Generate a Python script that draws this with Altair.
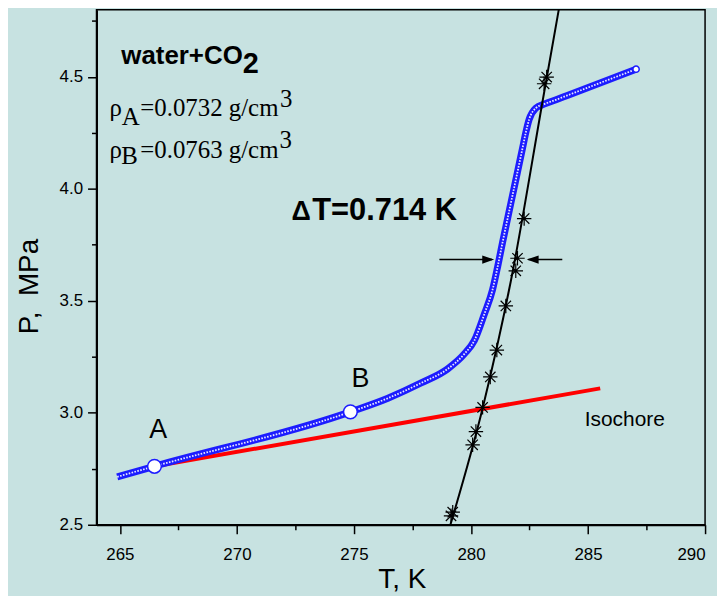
import altair as alt
import pandas as pd

# ---- data ----
# measured P(T) curve (blue open circles)
blue_T = [264.885, 266.477, 274.847, 276.45, 277.87, 279.006, 279.72, 280.14, 280.568,
          280.922, 281.134, 281.347, 281.701, 281.986, 282.199, 282.339, 282.484, 282.765,
          283.123, 283.689, 284.115, 287.052]
blue_P = [2.714, 2.761, 3.004, 3.065, 3.133, 3.196, 3.263, 3.322, 3.44,
          3.55, 3.65, 3.76, 3.935, 4.075, 4.18, 4.25, 4.31, 4.36,
          4.378, 4.40, 4.417, 4.534]
# phase-boundary points (asterisks)
star_T = [279.146, 279.219, 280.07, 280.21, 280.496, 280.824, 281.104, 281.488,
          281.913, 281.986, 282.271, 283.123, 283.233]
star_P = [2.54, 2.556, 2.857, 2.916, 3.024, 3.16, 3.28, 3.477,
          3.634, 3.69, 3.867, 4.469, 4.499]
# line through the asterisks
fit_T = [279.12, 280.496, 281.70, 283.12, 283.75]
fit_P = [2.5, 3.02, 3.587, 4.428, 4.8]
# isochore (red)
iso_T = [266.48, 285.52]
iso_P = [2.761, 3.109]
# marked states A and B
pt_T = [266.477, 274.847]
pt_P = [2.761, 3.004]
pt_name = ["A", "B"]
# axis ticks
x_ticks = [265, 267.5, 270, 272.5, 275, 277.5, 280, 282.5, 285, 287.5, 290]
y_ticks = [2.5, 2.75, 3.0, 3.25, 3.5, 3.75, 4.0, 4.25, 4.5, 4.75]

BG = "#c7e2e1"
BLUE = "#1c1cff"
SANS = "Liberation Sans"
SERIF = "Liberation Serif"
STAR = "M-1,0L1,0M0,-1L0,1M-0.72,-0.72L0.72,0.72M-0.72,0.72L0.72,-0.72"
HEAD_R = "M0,0L-1,-0.34L-1,0.34Z"
HEAD_L = "M0,0L1,-0.34L1,0.34Z"

xs = alt.Scale(domain=[264, 290], nice=False, zero=False)
ys = alt.Scale(domain=[2.5, 4.8], nice=False, zero=False)

xaxis = alt.Axis(
    values=x_ticks, format="d",
    labelExpr="datum.value % 5 === 0 ? datum.label : ''",
    tickSize={"condition": {"test": "datum.value % 5 === 0", "value": 9}, "value": 5},
    labelPadding=13,
    title="T, K", titleX=307, titleY=63, titleBaseline="alphabetic", titleAlign="center",
)
yaxis = alt.Axis(
    values=y_ticks, format=".1f",
    labelExpr="round(datum.value * 100) % 50 === 0 ? datum.label : ''",
    tickSize={"condition": {"test": "round(datum.value * 100) % 50 === 0", "value": 9}, "value": 5},
    labelPadding=5,
    title="P,\u00a0\u00a0MPa", titleX=-59, titleY=278, titleBaseline="alphabetic", titleAlign="center",
    titleAngle=270,
)

blue = pd.DataFrame({"T": blue_T, "P": blue_P})
stars = pd.DataFrame({"T": star_T, "P": star_P})
fit = pd.DataFrame({"T": fit_T, "P": fit_P})
iso = pd.DataFrame({"T": iso_T, "P": iso_P})
pts = pd.DataFrame({"T": pt_T, "P": pt_P, "name": pt_name})
endpt = pd.DataFrame({"T": [blue_T[-1]], "P": [blue_P[-1]]})
one = pd.DataFrame({"k": [0]})

X = alt.X("T:Q", scale=xs, axis=xaxis)
Y = alt.Y("P:Q", scale=ys, axis=yaxis)
x = alt.X("T:Q")
y = alt.Y("P:Q")

layers = []
layers.append(alt.Chart(iso).mark_line(color="#ff0000", strokeWidth=4).encode(x=X, y=Y))
layers.append(alt.Chart(blue).mark_line(color=BLUE, strokeWidth=7, interpolate="monotone").encode(x=x, y=y))
layers.append(alt.Chart(blue).mark_line(color="white", strokeWidth=1.8, strokeDash=[1.6, 1.4],
                                        interpolate="monotone", opacity=0.9).encode(x=x, y=y))
layers.append(alt.Chart(endpt).mark_point(shape="circle", size=40, filled=True, fill="white",
                                          stroke=BLUE, strokeWidth=1.5, opacity=1).encode(x=x, y=y))
layers.append(alt.Chart(fit).mark_line(color="black", strokeWidth=2, interpolate="monotone").encode(x=x, y=y))
layers.append(alt.Chart(stars).mark_point(shape=STAR, size=210, color="black", strokeWidth=1.2,
                                          filled=False, opacity=1).encode(x=x, y=y))
layers.append(alt.Chart(pts).mark_point(shape="circle", size=190, filled=True, fill="white",
                                        stroke=BLUE, strokeWidth=1.5, opacity=1).encode(x=x, y=y))


def ptxt(text, px, py, size, font=SANS, weight="normal", align="left"):
    return alt.Chart(one).mark_text(text=text, font=font, fontSize=size, fontWeight=weight,
                                    align=align, baseline="alphabetic", color="black").encode(
        x=alt.value(px), y=alt.value(py))


# text block (pixel offsets inside the plot area)
layers += [
    ptxt("water+CO", 25, 55, 26, weight="bold"),
    ptxt("2", 147, 63.5, 29, weight="bold"),
    ptxt("ρ", 13, 107, 25, font=SERIF),
    ptxt("A", 25.5, 116, 25, font=SERIF),
    ptxt("=0.0732 g/cm", 44, 107, 25, font=SERIF),
    ptxt("3", 184.5, 98, 25, font=SERIF),
    ptxt("ρ", 13, 149, 25, font=SERIF),
    ptxt("B", 25, 155, 25, font=SERIF),
    ptxt("=0.0763 g/cm", 44, 149, 25, font=SERIF),
    ptxt("3", 184, 139, 25, font=SERIF),
    ptxt("Δ", 196, 212, 27, weight="bold"),
    ptxt("T=0.714 K", 217, 212, 31, weight="bold"),
    ptxt("Isochore", 491, 419, 21),
    ptxt("A", 62, 431, 27, align="center"),
    ptxt("B", 265.5, 379, 27, align="center"),
]

# arrows marking the shift ΔT (data coordinates)
ARROW_P = 3.684
layers.append(alt.Chart(one).mark_rule(color="black", strokeWidth=1.5).encode(
    x=alt.datum(278.65), x2=alt.datum(280.9), y=alt.datum(ARROW_P)))
layers.append(alt.Chart(one).mark_rule(color="black", strokeWidth=1.5).encode(
    x=alt.datum(283.9), x2=alt.datum(282.45), y=alt.datum(ARROW_P)))
layers.append(alt.Chart(one).mark_point(shape=HEAD_R, size=576, filled=True, color="black",
                                        opacity=1, strokeWidth=0).encode(
    x=alt.datum(280.99), y=alt.datum(ARROW_P)))
layers.append(alt.Chart(one).mark_point(shape=HEAD_L, size=576, filled=True, color="black",
                                        opacity=1, strokeWidth=0).encode(
    x=alt.datum(282.38), y=alt.datum(ARROW_P)))

chart = alt.layer(*layers).properties(
    width=612, height=518,
    autosize=alt.AutoSizeParams(type="none"),
    padding={"left": 89, "top": 0, "right": 12, "bottom": 70},
    background=BG,
).configure_view(
    stroke="black", strokeWidth=1.5
).configure_axis(
    grid=False, domainColor="black", domainWidth=2, tickColor="black", tickWidth=1.5,
    labelFont=SANS, labelFontSize=17, labelColor="black",
    titleFont=SANS, titleFontSize=28, titleFontWeight="normal", titleColor="black",
)

chart.save("out.html", embed_options={"renderer": "svg", "actions": False})
